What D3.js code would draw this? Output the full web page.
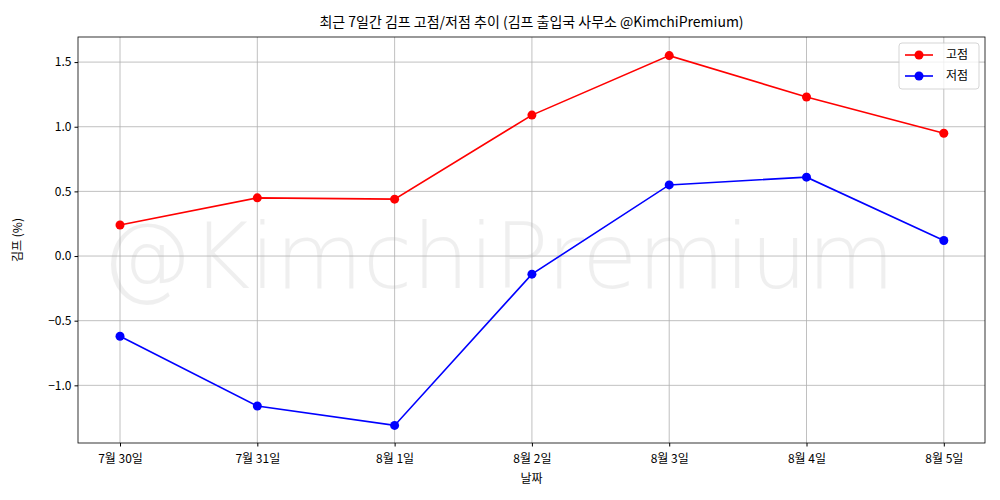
<!DOCTYPE html><html><head><meta charset="utf-8"><script src="https://cdn.jsdelivr.net/npm/d3@7"></script>
<style>body{margin:0;background:#fff}text{font-family:"Noto Sans CJK KR","Noto Sans",sans-serif}</style></head><body><svg id="c" width="1000" height="500"></svg><script>
const categories=["7월 30일","7월 31일","8월 1일","8월 2일","8월 3일","8월 4일","8월 5일"];
const highVals=[0.24,0.45,0.44,1.09,1.55,1.23,0.95];
const lowVals=[-0.62,-1.16,-1.31,-0.14,0.55,0.61,0.12];
const yTicks=[-1.0,-0.5,0,0.5,1.0,1.5];
const svg=d3.select("#c");
const L=78,R=985,T=37,B=443;
const x=d3.scaleLinear().domain([-0.306,6.3]).range([L,R]);
const y=d3.scaleLinear().domain([-1.446,1.694]).range([B,T]);
svg.append("text").attr("x",498).attr("y",256).attr("text-anchor","middle").attr("dominant-baseline","central").attr("font-size",90).attr("fill","#000").attr("opacity",0.06).style("font-family","DejaVu Sans").style("font-weight",200).text("@KimchiPremium");
const g=svg.append("g");
categories.forEach((c,i)=>g.append("line").attr("x1",x(i)).attr("x2",x(i)).attr("y1",T).attr("y2",B).attr("stroke","#b0b0b0").attr("stroke-width",0.8));
yTicks.forEach(t=>g.append("line").attr("x1",L).attr("x2",R).attr("y1",y(t)).attr("y2",y(t)).attr("stroke","#b0b0b0").attr("stroke-width",0.8));
svg.append("g").attr("transform",`translate(0,${B})`).call(d3.axisBottom(x).tickValues(d3.range(7)).tickFormat(i=>categories[i]).tickSizeOuter(0).tickSize(3.5)).call(a=>{a.select(".domain").remove();a.selectAll("text").attr("font-size",12).attr("dy","1.1em")});
svg.append("g").attr("transform",`translate(${L},0)`).call(d3.axisLeft(y).tickValues(yTicks).tickFormat(d=>(d<0?"\u2212":"")+Math.abs(d).toFixed(1)).tickSize(3.5)).call(a=>{a.select(".domain").remove();a.selectAll("text").attr("font-size",12)});
svg.append("rect").attr("x",L).attr("y",T).attr("width",R-L).attr("height",B-T).attr("fill","none").attr("stroke","#000").attr("stroke-width",0.8);
const line=d3.line().x((d,i)=>x(i)).y(d=>y(d));
[[highVals,"#ff0000"],[lowVals,"#0000ff"]].forEach(([v,c])=>{
svg.append("path").attr("d",line(v)).attr("fill","none").attr("stroke",c).attr("stroke-width",1.6);
svg.selectAll(null).data(v).enter().append("circle").attr("cx",(d,i)=>x(i)).attr("cy",d=>y(d)).attr("r",4.5).attr("fill",c);});
svg.append("text").attr("x",(L+R)/2).attr("y",27).attr("text-anchor","middle").attr("font-size",14).text("최근 7일간 김프 고점/저점 추이 (김프 출입국 사무소 @KimchiPremium)");
svg.append("text").attr("x",(L+R)/2).attr("y",483).attr("text-anchor","middle").attr("font-size",12).text("날짜");
svg.append("text").attr("transform",`translate(22,${(T+B)/2}) rotate(-90)`).attr("text-anchor","middle").attr("font-size",12).text("김프 (%)");
const lg=svg.append("g").attr("transform","translate(899,43)");
lg.append("rect").attr("width",80).attr("height",46).attr("rx",3).attr("fill","#fff").attr("opacity",0.8).attr("stroke","#ccc");
[["고점","#ff0000"],["저점","#0000ff"]].forEach(([t,c],i)=>{const yy=12+i*21;
lg.append("line").attr("x1",6).attr("x2",34).attr("y1",yy).attr("y2",yy).attr("stroke",c).attr("stroke-width",1.6);
lg.append("circle").attr("cx",20).attr("cy",yy).attr("r",4.5).attr("fill",c);
lg.append("text").attr("x",47).attr("y",yy).attr("dy","0.35em").attr("font-size",12).text(t);});
</script></body></html>
